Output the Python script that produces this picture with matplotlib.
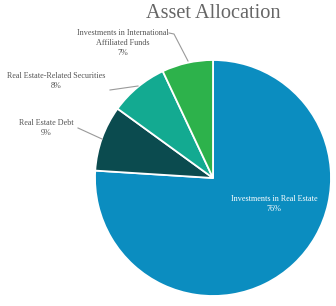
import matplotlib
matplotlib.use("Agg")
import matplotlib.pyplot as plt

categories = ["Investments in Real Estate", "Real Estate Debt",
              "Real Estate-Related Securities",
              "Investments in International\nAffiliated Funds"]
values = [76, 9, 8, 7]
colors = ["#0B8DC0", "#0B4B4F", "#13AA91", "#2DB24B"]

fig = plt.figure(figsize=(3.36, 3.06), dpi=100)
ax = fig.add_axes([0, 0, 1, 1])

H = 306
cx, cy, r = 213, H - 178, 118
ax.pie(values, colors=colors, startangle=90, counterclock=False,
       center=(cx, cy), radius=r, frame=True,
       wedgeprops=dict(edgecolor="white", linewidth=1.3))
ax.set_xlim(0, 336)
ax.set_ylim(0, 306)
ax.axis("off")

serif = ["Liberation Serif", "DejaVu Serif"]
fig.text(213 / 336, 1 - 14 / H, "Asset Allocation", ha="center", va="center",
         fontsize=14.6, color="#666666", family=serif)

fs = 5.9
tc = "#555555"
ls = 1.35
# inside label
ax.text(274, H - 204, f"{categories[0]}\n{values[0]}%", ha="center", va="center",
        fontsize=fs, color="white", family=serif, linespacing=ls)
# outside labels
ax.text(46, H - 128, f"{categories[1]}\n{values[1]}%", ha="center", va="center",
        fontsize=fs, color=tc, family=serif, linespacing=ls)
ax.text(56, H - 81, f"{categories[2]}\n{values[2]}%", ha="center", va="center",
        fontsize=fs, color=tc, family=serif, linespacing=ls)
ax.text(123, H - 43, f"{categories[3]}\n{values[3]}%", ha="center", va="center",
        fontsize=fs, color=tc, family=serif, linespacing=ls)

lc = "#9a9a9a"
ax.plot([78, 102], [H - 128, H - 139], color=lc, lw=0.8)
ax.plot([110, 138], [H - 90, H - 86], color=lc, lw=0.8)
ax.plot([169, 174, 188], [H - 33, H - 34, H - 61], color=lc, lw=0.8)

fig.savefig("out.png", dpi=100, facecolor="white")
